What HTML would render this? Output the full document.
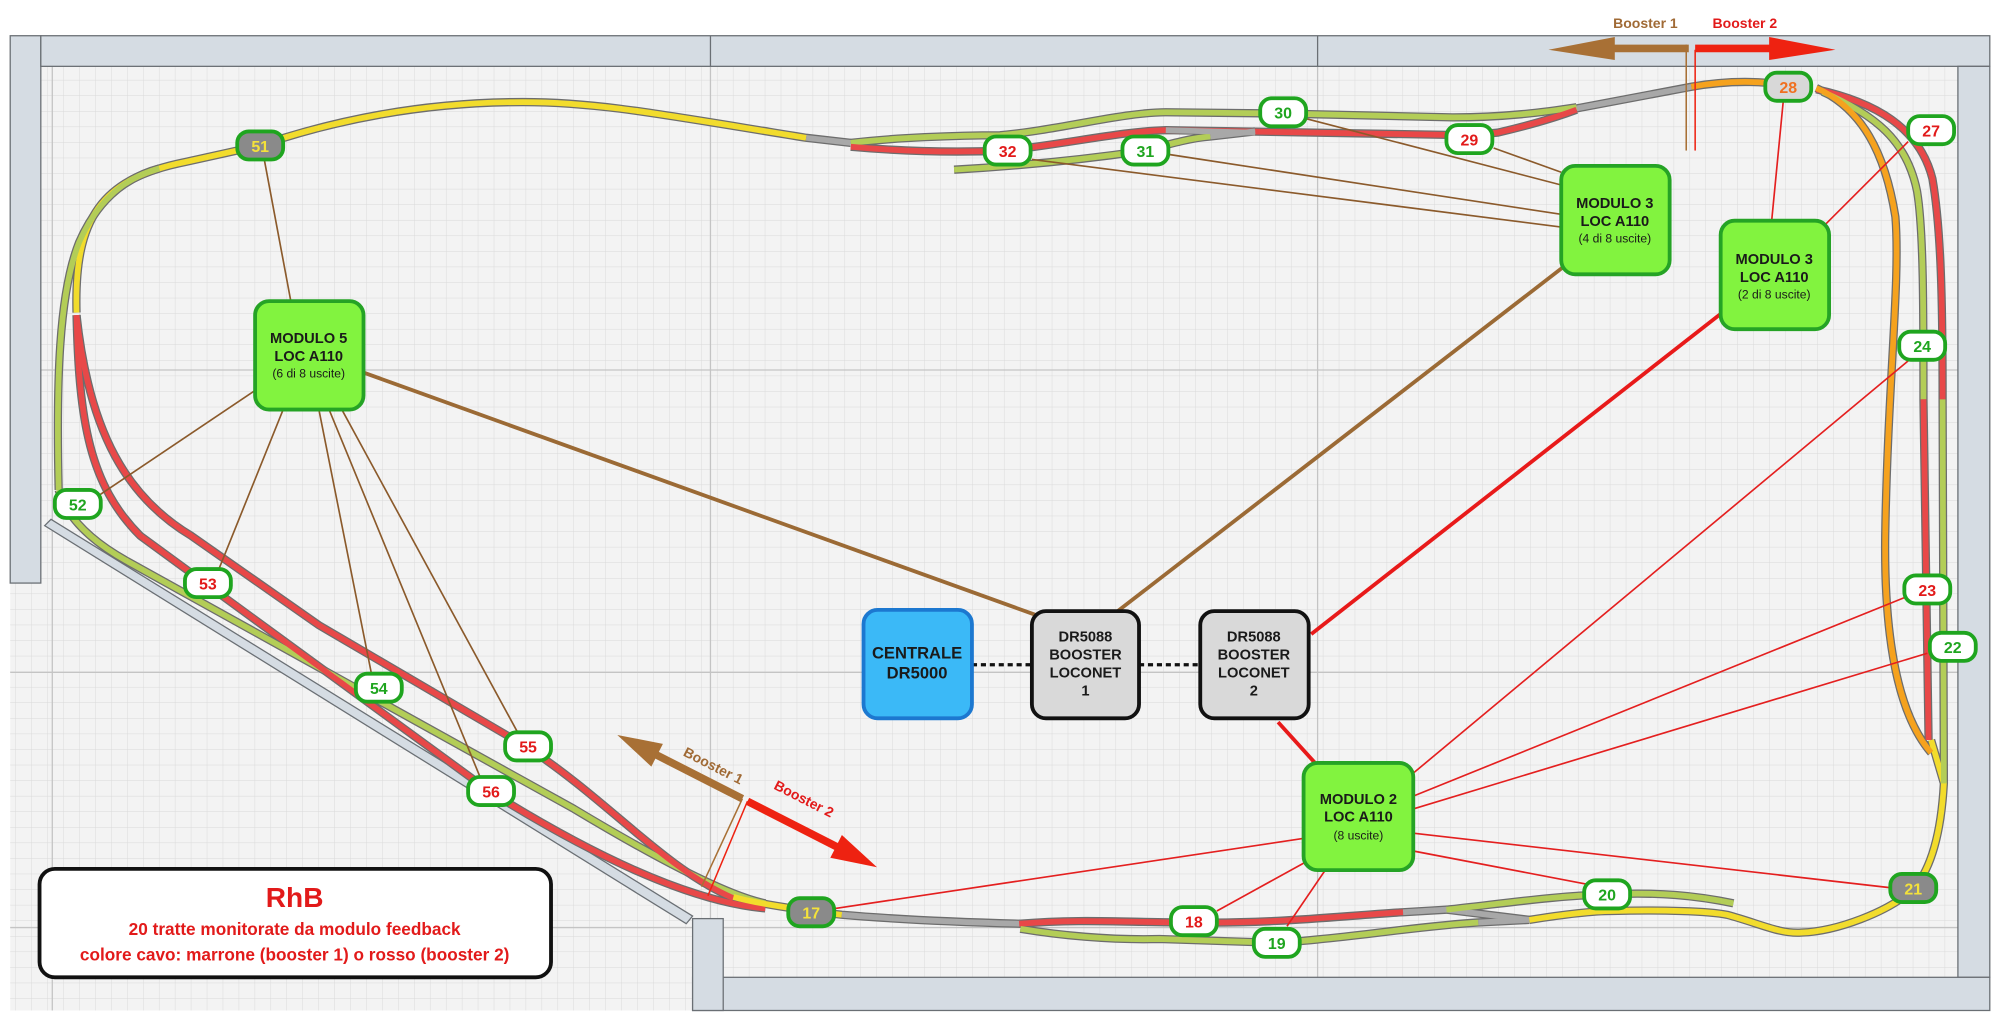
<!DOCTYPE html>
<html><head><meta charset="utf-8"><style>
html,body{margin:0;padding:0;background:#fff;}
svg{display:block;font-family:"Liberation Sans",sans-serif;}
</style></head><body>
<svg width="2000" height="1036" viewBox="0 0 1568 812" preserveAspectRatio="none" xmlns="http://www.w3.org/2000/svg">
<defs>
<pattern id="g" x="0" y="2" width="12.5" height="12.2" patternUnits="userSpaceOnUse">
<path d="M12.5 0V12.2M0 12.2H12.5" stroke="#d9d9d9" stroke-width="0.7" fill="none"/>
</pattern>
</defs>
<rect x="8" y="28" width="1552" height="764" fill="#f3f3f3"/>
<rect x="8" y="28" width="1552" height="764" fill="url(#g)"/>
<g stroke="#c4c4c4" stroke-width="1">
<path d="M41 52V792M557 52V792M1033 52V792M8 290H1560M8 527H1560M8 727H1560"/>
</g>
<!-- walls -->
<g fill="#d5dce3" stroke="#6a6f74" stroke-width="1">
<rect x="8" y="28" width="24" height="429"/>
<rect x="32" y="28" width="1528" height="24"/>
<rect x="1535" y="52" width="25" height="714"/>
<rect x="543" y="766" width="1017" height="26"/>
<rect x="543" y="720" width="24" height="72"/>
<polygon points="35,412 40,407 543,718 538,724"/>
</g>
<path d="M557 28V52M1033 28V52" stroke="#6a6f74"/>

<!-- tracks: outlines -->
<g fill="none" stroke="#6d6d6d" stroke-width="6.5" stroke-linecap="butt">
<path d="M60,245 C58,170 80,140 145,127 L204,114 C260,95 330,80 410,80 C470,80 520,90 632,108 L667,112"/>
<path d="M46,384 C44,300 46,230 62,190 C75,160 95,140 125,132"/>
<path d="M46,384 Q55,415 100,440 L450,634 Q560,700 600,708"/>
<path d="M60,247 C62,330 70,380 110,420 L385,621 Q520,705 600,712"/>
<path d="M60,247 C70,340 100,390 150,420 L250,490 L414,586 C480,630 520,680 575,704"/>
<path d="M575,703 Q600,710 660,717 Q720,722 800,724"/>
<path d="M799,724 C850,720 880,723 936,723 C1000,724 1050,718 1100,715 L1134,713 L1199,721"/>
<path d="M800,728 C830,733 870,737 909,736 L1002,739 C1060,735 1110,726 1159,723 L1199,721"/>
<path d="M1134,713 C1180,708 1220,702 1260,701 C1300,699 1330,702 1359,708"/>
<path d="M1199,721 C1230,716 1250,714 1264,714 C1300,713 1340,714 1354,717 C1380,724 1395,732 1412,731 C1440,730 1480,715 1500,697 C1515,680 1522,650 1524,614 L1514,580"/>
<path d="M1424,70 C1470,80 1505,100 1515,140 C1522,180 1523,240 1523,313 L1524,614"/>
<path d="M1429,72 C1470,90 1495,110 1503,150 C1508,180 1508,240 1508,313 L1512,580"/>
<path d="M1424,69 C1460,85 1478,120 1486,170 C1490,220 1480,300 1478,420 C1477,500 1488,560 1514,590"/>
<path d="M1236,85 L1326,68 C1360,62 1390,64 1402,68"/>
<path d="M667,112 C700,108 750,106 784,106 C830,102 880,88 914,88 L1005,89 L1139,92 C1180,92 1210,88 1236,84"/>
<path d="M667,115 C700,118 740,120 789,118 C840,112 880,103 914,102 L1152,106 L1174,104 C1200,98 1220,92 1236,86"/>
<path d="M748,133 C800,130 850,125 898,118 C920,112 935,108 949,107 L984,103"/>
</g>
<g fill="none" stroke-width="4.5" stroke-linecap="butt">
<path stroke="#f2dc2c" d="M60,245 C58,170 80,140 145,127 L204,114 C260,95 330,80 410,80 C470,80 520,90 632,108"/>
<path stroke="#a8a8a8" d="M632,108 L667,112"/>
<path stroke="#b3cd57" d="M46,384 C44,300 46,230 62,190 C75,160 95,140 125,132"/>
<path stroke="#b3cd57" d="M46,384 Q55,415 100,440 L450,634 Q560,700 600,708"/>
<path stroke="#e84848" d="M60,247 C62,330 70,380 110,420 L385,621 Q520,705 600,712"/>
<path stroke="#e84848" d="M60,247 C70,340 100,390 150,420 L250,490 L414,586 C480,630 520,680 575,704"/>
<path stroke="#f2dc2c" d="M575,703 Q600,710 660,717"/>
<path stroke="#a8a8a8" d="M660,717 Q720,722 800,724"/>
<path stroke="#e84848" d="M799,724 C850,720 880,723 936,723 C1000,724 1050,718 1100,715"/>
<path stroke="#a8a8a8" d="M1100,715 L1134,713 L1199,721"/>
<path stroke="#b3cd57" d="M800,728 C830,733 870,737 909,736 L1002,739 C1060,735 1110,726 1159,723"/>
<path stroke="#a8a8a8" d="M1159,723 L1199,721"/>
<path stroke="#b3cd57" d="M1134,713 C1180,708 1220,702 1260,701 C1300,699 1330,702 1359,708"/>
<path stroke="#f2dc2c" d="M1199,721 C1230,716 1250,714 1264,714 C1300,713 1340,714 1354,717 C1380,724 1395,732 1412,731 C1440,730 1480,715 1500,697 C1515,680 1522,650 1524,614 L1514,580"/>
<path stroke="#e84848" d="M1424,70 C1470,80 1505,100 1515,140 C1522,180 1523,240 1523,313"/>
<path stroke="#b3cd57" d="M1523,313 L1524,614"/>
<path stroke="#b3cd57" d="M1429,72 C1470,90 1495,110 1503,150 C1508,180 1508,240 1508,313"/>
<path stroke="#e84848" d="M1508,313 L1512,580"/>
<path stroke="#f5a21e" d="M1424,69 C1460,85 1478,120 1486,170 C1490,220 1480,300 1478,420 C1477,500 1488,560 1514,590"/>
<path stroke="#a8a8a8" d="M1236,85 L1326,68"/>
<path stroke="#f5a21e" d="M1326,68 C1360,62 1390,64 1402,68"/>
<path stroke="#b3cd57" d="M667,112 C700,108 750,106 784,106 C830,102 880,88 914,88 L1005,89 L1139,92 C1180,92 1210,88 1236,84"/>
<path stroke="#e84848" d="M667,115 C700,118 740,120 789,118 C840,112 880,103 914,102 L1152,106 L1174,104 C1200,98 1220,92 1236,86"/>
<path stroke="#b3cd57" d="M748,133 C800,130 850,125 898,118 C920,112 935,108 949,107"/>
<path stroke="#a8a8a8" d="M949,107 L984,103"/>
<path stroke="#a8a8a8" d="M914,102 L984,104"/>
</g>

<!-- connectors -->
<g stroke="#8b5a2b" stroke-width="1.3" fill="none">
<path d="M228,236L207,124M200,306L75,390M222,321L170,450M250,321L292,532M258,321L378,613M268,321L408,578"/>
<path d="M1224,145L1024,93M1224,135L1171,116M1224,168L916,121M1224,178L809,125"/>
</g>
<g stroke="#9b6a35" stroke-width="3" fill="none">
<path d="M285,292L812,482M1226,209L875,480"/>
</g>
<g stroke="#e41f1f" stroke-width="1.3" fill="none">
<path d="M1389,173L1398,80M1431,176L1496,111"/>
<path d="M1108,606L1497,282M1108,624L1494,468M1108,634L1511,512M1108,653L1484,696M1108,667L1244,693M1039,682L1009,726M1023,676L954,714M1023,657L655,712"/>
</g>
<g stroke="#e81a1a" stroke-width="3" fill="none">
<path d="M1349,246L1028,497M1002,566L1031,598"/>
</g>
<path d="M762,521H809M893,521H941" stroke="#111" stroke-width="2.5" stroke-dasharray="4,3"/>

<!-- boxes -->
<g stroke-width="3">
<rect x="200" y="236" width="85" height="85" rx="11" fill="#82f33f" stroke="#25a325"/>
<rect x="1224" y="130" width="85" height="85" rx="11" fill="#82f33f" stroke="#25a325"/>
<rect x="1349" y="173" width="85" height="85" rx="11" fill="#82f33f" stroke="#25a325"/>
<rect x="1022" y="598" width="86" height="84" rx="11" fill="#82f33f" stroke="#25a325"/>
<rect x="677" y="478" width="85" height="85" rx="11" fill="#3bb9f7" stroke="#1c78d0"/>
<rect x="809" y="479" width="84" height="84" rx="11" fill="#d9d9d9" stroke="#111"/>
<rect x="941" y="479" width="85" height="84" rx="11" fill="#d9d9d9" stroke="#111"/>
</g>
<g font-weight="bold" font-size="11.5" fill="#1a1a1a" text-anchor="middle">
<text x="242" y="269">MODULO 5</text><text x="242" y="283">LOC A110</text>
<text x="1266" y="163">MODULO 3</text><text x="1266" y="177">LOC A110</text>
<text x="1391" y="207">MODULO 3</text><text x="1391" y="221">LOC A110</text>
<text x="1065" y="630">MODULO 2</text><text x="1065" y="644">LOC A110</text>
<text x="851" y="503">DR5088</text><text x="851" y="517">BOOSTER</text><text x="851" y="531">LOCONET</text><text x="851" y="545">1</text>
<text x="983" y="503">DR5088</text><text x="983" y="517">BOOSTER</text><text x="983" y="531">LOCONET</text><text x="983" y="545">2</text>
<text x="719" y="516" font-size="13">CENTRALE</text><text x="719" y="532" font-size="13">DR5000</text>
</g>
<g font-size="9.5" fill="#1a1a1a" text-anchor="middle">
<text x="242" y="296">(6 di 8 uscite)</text>
<text x="1266" y="190">(4 di 8 uscite)</text>
<text x="1391" y="234">(2 di 8 uscite)</text>
<text x="1065" y="658">(8 uscite)</text>
</g>

<!-- badges -->
<g stroke="#1fa51f" stroke-width="3" fill="#fff">
<rect x="186" y="103" width="36" height="22" rx="9" fill="#8a8a8a"/>
<rect x="988" y="77" width="36" height="22" rx="9"/>
<rect x="772" y="107" width="36" height="22" rx="9"/>
<rect x="880" y="107" width="36" height="22" rx="9"/>
<rect x="1134" y="98" width="36" height="22" rx="9"/>
<rect x="1384" y="57" width="36" height="22" rx="9" fill="#d8d8d8"/>
<rect x="1496" y="91" width="36" height="22" rx="9"/>
<rect x="1489" y="260" width="36" height="22" rx="9"/>
<rect x="1493" y="451" width="36" height="22" rx="9"/>
<rect x="1513" y="496" width="36" height="22" rx="9"/>
<rect x="1482" y="685" width="36" height="22" rx="9" fill="#8a8a8a"/>
<rect x="1242" y="690" width="36" height="22" rx="9"/>
<rect x="983" y="728" width="36" height="22" rx="9"/>
<rect x="918" y="711" width="36" height="22" rx="9"/>
<rect x="618" y="704" width="36" height="22" rx="9" fill="#8a8a8a"/>
<rect x="43" y="384" width="36" height="22" rx="9"/>
<rect x="145" y="446" width="36" height="22" rx="9"/>
<rect x="279" y="528" width="36" height="22" rx="9"/>
<rect x="396" y="574" width="36" height="22" rx="9"/>
<rect x="367" y="609" width="36" height="22" rx="9"/>
</g>
<g font-weight="bold" font-size="12.5" text-anchor="middle">
<text x="204" y="119" fill="#f4e23a">51</text>
<text x="1006" y="93" fill="#1fa51f">30</text>
<text x="790" y="123" fill="#e21a1a">32</text>
<text x="898" y="123" fill="#1fa51f">31</text>
<text x="1152" y="114" fill="#e21a1a">29</text>
<text x="1402" y="73" fill="#f07020">28</text>
<text x="1514" y="107" fill="#e21a1a">27</text>
<text x="1507" y="276" fill="#1fa51f">24</text>
<text x="1511" y="467" fill="#e21a1a">23</text>
<text x="1531" y="512" fill="#1fa51f">22</text>
<text x="1500" y="701" fill="#f4e23a">21</text>
<text x="1260" y="706" fill="#1fa51f">20</text>
<text x="1001" y="744" fill="#1fa51f">19</text>
<text x="936" y="727" fill="#e21a1a">18</text>
<text x="636" y="720" fill="#f4e23a">17</text>
<text x="61" y="400" fill="#1fa51f">52</text>
<text x="163" y="462" fill="#e21a1a">53</text>
<text x="297" y="544" fill="#1fa51f">54</text>
<text x="414" y="590" fill="#e21a1a">55</text>
<text x="385" y="625" fill="#e21a1a">56</text>
</g>

<!-- booster arrows top -->
<path d="M1324,35 H1266 V29 L1214,39 L1266,47 V41 H1324Z" fill="#a87035"/>
<path d="M1329,35 H1387 V29 L1439,39 L1387,47 V41 H1329Z" fill="#ee2211"/>
<path d="M1322,35V118" stroke="#a87035" stroke-width="1.2"/>
<path d="M1329,39V118" stroke="#ee2211" stroke-width="1.2"/>
<text x="1290" y="22" font-size="11" font-weight="bold" fill="#a06a35" text-anchor="middle">Booster 1</text>
<text x="1368" y="22" font-size="11" font-weight="bold" fill="#e21a1a" text-anchor="middle">Booster 2</text>

<!-- booster arrows bottom -->
<g transform="translate(582,626) rotate(207)">
<path d="M0,-3 H75 V-10 L110,0 L75,10 V3 H0Z" fill="#a87035"/>
</g>
<g transform="translate(586,628) rotate(27)">
<path d="M0,-3 H78 V-10 L114,0 L78,10 V3 H0Z" fill="#ee2211"/>
</g>
<path d="M582,626L550,695" stroke="#a87035" stroke-width="1.2"/>
<path d="M586,628L555,702" stroke="#ee2211" stroke-width="1.2"/>
<text transform="translate(535,592) rotate(27)" font-size="11" font-weight="bold" fill="#a06a35">Booster 1</text>
<text transform="translate(606,618) rotate(27)" font-size="11" font-weight="bold" fill="#e21a1a">Booster 2</text>

<!-- legend -->
<rect x="31" y="681" width="401" height="85" rx="12" fill="#fff" stroke="#111" stroke-width="3"/>
<g font-weight="bold" fill="#e21a1a" text-anchor="middle">
<text x="231" y="711" font-size="22">RhB</text>
<text x="231" y="733" font-size="13.5">20 tratte monitorate da modulo feedback</text>
<text x="231" y="753" font-size="13.5">colore cavo: marrone (booster 1) o rosso (booster 2)</text>
</g>
</svg>
</body></html>
